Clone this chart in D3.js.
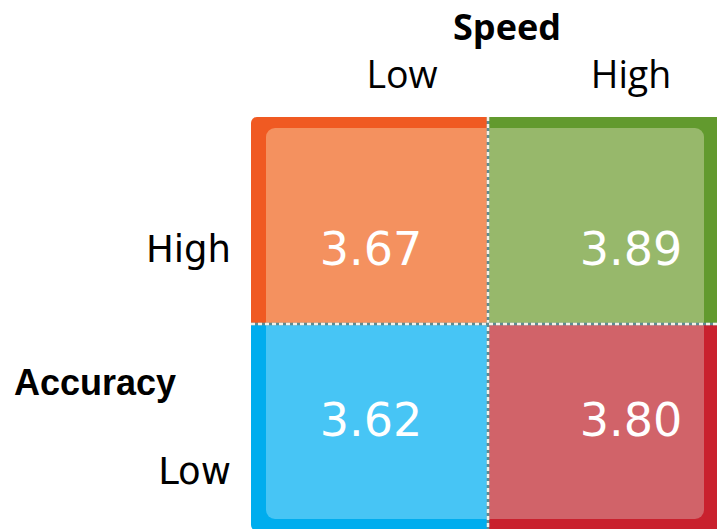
<!DOCTYPE html>
<html><head><meta charset="utf-8">
<script src="https://cdn.jsdelivr.net/npm/d3@7/dist/d3.min.js"></script>
<style>body{margin:0;background:#fff;overflow:hidden}</style>
</head><body>
<svg id="chart" width="717" height="529"></svg>
<script>
// ---- data ----
const speedLevels = ["Low", "High"];
const accuracyLevels = ["High", "Low"];
const cellSpeed = ["Low", "High", "Low", "High"];
const cellAccuracy = ["High", "High", "Low", "Low"];
const cellValues = [3.67, 3.89, 3.62, 3.80];
const darkColors = ["#F05A22", "#629A2E", "#00ADEE", "#C9212E"];
const lightColors = ["#F4915F", "#97B86B", "#47C5F5", "#D16369"];
const xTitle = "Speed";
const yTitle = "Accuracy";

const cells = cellValues.map((v, i) => ({
  speed: cellSpeed[i], acc: cellAccuracy[i], value: v,
  dark: darkColors[i], light: lightColors[i]
}));

const svg = d3.select("#chart");

// ---- scales ----
const x = d3.scaleBand().domain(speedLevels).range([251, 725]);
const y = d3.scaleBand().domain(accuracyLevels).range([117, 531]);
const xLabel = d3.scalePoint().domain(speedLevels).range([402, 631]);
const xVal = d3.scalePoint().domain(speedLevels).range([371, 631]);
const yLabel = d3.scalePoint().domain(accuracyLevels).range([262, 484]);
const yVal = d3.scalePoint().domain(accuracyLevels).range([265, 436]);

const [x0, x1] = x.range(), [y0, y1] = y.range();

// outer clip (rounded)
const defs = svg.append("defs");
defs.append("clipPath").attr("id", "outer")
  .append("rect").attr("x", x0).attr("y", y0)
  .attr("width", x1 - x0).attr("height", y1 - y0).attr("rx", 6);
defs.append("clipPath").attr("id", "inner")
  .append("rect").attr("x", x0 + 15).attr("y", y0 + 11)
  .attr("width", 704 - (x0 + 15)).attr("height", 519 - (y0 + 11)).attr("rx", 9);

// dark border cells
svg.append("g").attr("clip-path", "url(#outer)")
  .selectAll("rect").data(cells).join("rect")
  .attr("x", d => x(d.speed)).attr("y", d => y(d.acc))
  .attr("width", x.bandwidth()).attr("height", y.bandwidth())
  .attr("fill", d => d.dark);

// light inner cells
svg.append("g").attr("clip-path", "url(#inner)")
  .selectAll("rect").data(cells).join("rect")
  .attr("x", d => x(d.speed)).attr("y", d => y(d.acc))
  .attr("width", x.bandwidth()).attr("height", y.bandwidth())
  .attr("fill", d => d.light);

// dividers
const xm = x("High"), ym = y("Low");
const div = svg.append("g");
[[xm, y0, xm, 529], [x0, ym, 717, ym]].forEach(([a, b, c, e]) => {
  div.append("line").attr("x1", a).attr("y1", b).attr("x2", c).attr("y2", e)
    .attr("stroke", "#5E8C93").attr("stroke-width", 2.5);
  div.append("line").attr("x1", a).attr("y1", b).attr("x2", c).attr("y2", e)
    .attr("stroke", "#F4F1E8").attr("stroke-width", 2.5).attr("stroke-dasharray", "4,3");
});

// values
svg.append("g").selectAll("text").data(cells).join("text")
  .attr("x", d => xVal(d.speed)).attr("y", d => yVal(d.acc))
  .attr("text-anchor", "middle")
  .attr("font-family", "DejaVu Sans").attr("font-size", 46)
  .attr("fill", "#fff")
  .text(d => d.value.toFixed(2));

// top labels
svg.append("text").attr("x", 507).attr("y", 40).attr("text-anchor", "middle")
  .attr("font-family", "Open Sans").attr("font-weight", "bold").attr("font-size", 36)
  .attr("fill", "#000").text(xTitle);
svg.append("g").selectAll("text").data(speedLevels).join("text")
  .attr("x", d => xLabel(d)).attr("y", 88).attr("text-anchor", "middle")
  .attr("font-family", "Open Sans").attr("font-size", 37.5).attr("fill", "#000")
  .text(d => d);

// left labels
svg.append("text").attr("x", 14).attr("y", 395)
  .attr("font-family", "Liberation Sans").attr("font-weight", "bold").attr("font-size", 36)
  .attr("fill", "#000").text(yTitle);
svg.append("g").selectAll("text").data(accuracyLevels).join("text")
  .attr("x", 231).attr("y", d => yLabel(d)).attr("text-anchor", "end")
  .attr("font-family", "DejaVu Sans").attr("font-size", 37).attr("fill", "#000")
  .text(d => d);
</script>
</body></html>
